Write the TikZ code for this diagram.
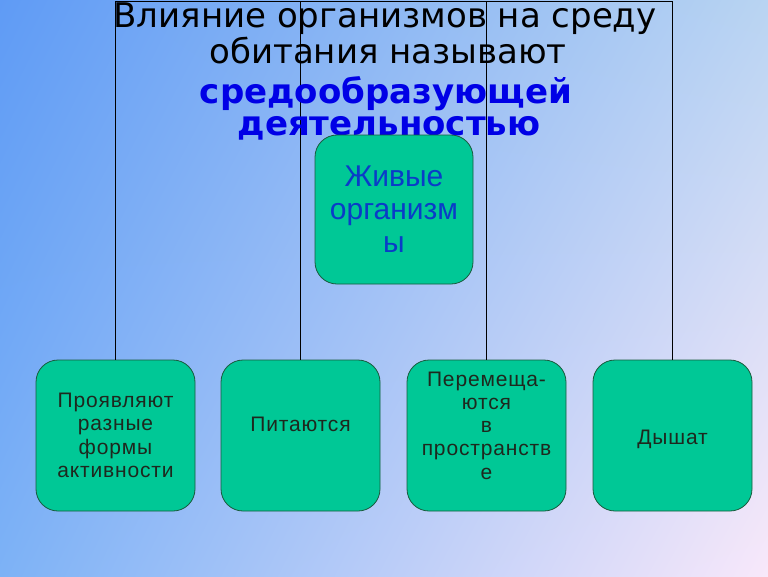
\documentclass[tikz,border=0pt]{standalone}
\usepackage{fontspec}
\usetikzlibrary{shadings}
\setmainfont{Liberation Sans}
\newfontfamily\titlefont{DejaVu Sans}
\newfontfamily\boldfont{DejaVu Sans}
\newfontfamily\spacedfont[LetterSpace=4]{Liberation Sans}
\definecolor{bgUL}{RGB}{95,155,245}
\definecolor{bgUR}{RGB}{185,212,242}
\definecolor{bgLL}{RGB}{125,178,246}
\definecolor{bgLR}{RGB}{248,232,250}
\definecolor{boxfill}{RGB}{0,200,150}
\definecolor{boxline}{RGB}{25,90,60}
\definecolor{titleblue}{RGB}{0,0,230}
\definecolor{centertext}{RGB}{10,60,200}
\definecolor{boxtext}{RGB}{30,40,30}
\tikzset{
  leafbox/.style={draw=boxline, fill=boxfill, line width=0.8pt, rounded corners=22pt,
    minimum width=159pt, minimum height=151pt, inner sep=0pt},
  rootbox/.style={draw=boxline, fill=boxfill, line width=0.8pt, rounded corners=22pt,
    minimum width=158pt, minimum height=149pt, inner sep=0pt},
  leaftext/.style={align=center, text=boxtext, font=\spacedfont\fontsize{21}{23.3}\selectfont, inner sep=0pt},
  conn/.style={draw=black, line width=1.2pt},
  blacktitle/.style={anchor=base, inner sep=0pt, font=\titlefont\fontsize{34}{36}\selectfont},
  bluetitle/.style={anchor=base, inner sep=0pt, text=titleblue, font=\boldfont\bfseries\fontsize{34}{36}\selectfont}
}
\begin{document}
\begin{tikzpicture}[x=1pt,y=-1pt]
\useasboundingbox (0,0) rectangle (768,576);
\shade[upper left=bgUL, upper right=bgUR, lower left=bgLL, lower right=bgLR] (0,0) rectangle (768,576);
% bottom boxes
\node[leafbox] (b1) at (115.5,435.5) {};
\node[leafbox] (b2) at (300.5,435.5) {};
\node[leafbox] (b3) at (486.5,435.5) {};
\node[leafbox] (b4) at (672.5,435.5) {};
\coordinate (t) at (0,1.2);
% connectors
\draw[conn] (b1.north) -- (b1.north |- t) -- (b4.north |- t) -- (b4.north);
\draw[conn] (b2.north) -- (b2.north |- t);
\draw[conn] (b3.north) -- (b3.north |- t);
% title
\node[blacktitle] (t1) at (385,27) {Влияние организмов на среду};
\node[blacktitle] (t2) at (388,63) {обитания называют};
\node[bluetitle] (t3) at (386,103) {средообразующей};
\node[bluetitle] (t4) at (389,135) {деятельностью};
% root box
\node[rootbox] (root) at (394,209.5) {};
\node[align=center, text=centertext, inner sep=0pt, font=\fontsize{30}{33}\selectfont] (roottext) at (root.center) {Живые\\организм\\ы};
% leaf texts
\node[leaftext] (l1) at (b1.center) {Проявляют\\разные\\формы\\активности};
\node[leaftext] (l2) at ([yshift=11pt]b2.center) {Питаются};
\node[leaftext] (l3) at ([yshift=10pt]b3.center) {Перемеща-\\ются\\в\\пространств\\е};
\node[leaftext] (l4) at ([yshift=-4pt]b4.center) {Дышат};
\end{tikzpicture}
\end{document}
